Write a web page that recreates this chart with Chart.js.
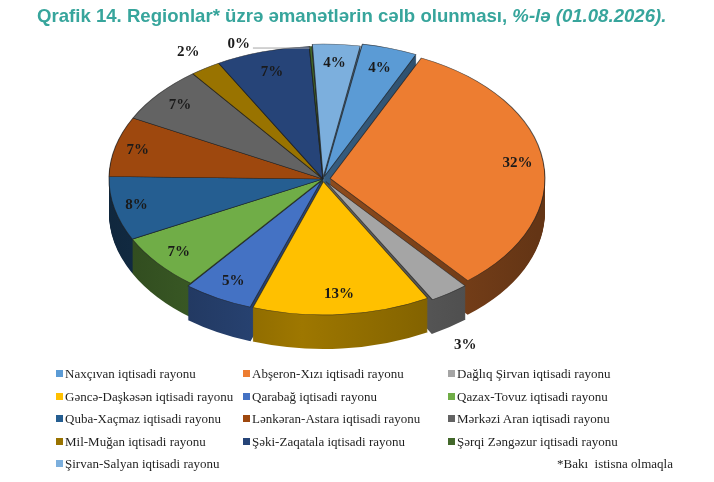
<!DOCTYPE html>
<html>
<head>
<meta charset="utf-8">
<script src="https://cdn.jsdelivr.net/npm/chart.js@4.4.1/dist/chart.umd.min.js"></script>
<style>
    html, body{margin:0;padding:0;background:#fff;}
    #wrap{position:relative;width:714px;height:482px;overflow:hidden;}
    #pie{position:absolute;left:0;top:0;}
    #title{position:absolute;left:37px;top:5px;font:bold 18.6px "Liberation Sans", Arial, sans-serif;color:#37a59c;white-space:nowrap;}
    #legend{position:absolute;left:0;top:363px;width:714px;height:119px;font:13px "Liberation Serif", "Times New Roman", serif;color:#1f1f1f;}
    .item{position:absolute;white-space:nowrap;height:22px;line-height:22px;}
    .box{display:inline-block;width:7px;height:7px;margin-right:2px;vertical-align:1px;}
    #note{position:absolute;left:557px;top:90px;height:22px;line-height:22px;white-space:pre;}
</style>
</head>
<body>
<div id="wrap">
    <canvas id="pie" width="714" height="482"></canvas>
    <div id="title">Qrafik 14. Regionlar* üzrə əmanətlərin cəlb olunması, <i>%-lə (01.08.2026).</i></div>
    <div id="legend"></div>
</div>
<script>
(function(){
    var regions = [
        'Naxçıvan iqtisadi rayonu',
        'Abşeron-Xızı iqtisadi rayonu',
        'Dağlıq Şirvan iqtisadi rayonu',
        'Gəncə-Daşkəsən iqtisadi rayonu',
        'Qarabağ iqtisadi rayonu',
        'Qazax-Tovuz iqtisadi rayonu',
        'Quba-Xaçmaz iqtisadi rayonu',
        'Lənkəran-Astara iqtisadi rayonu',
        'Mərkəzi Aran iqtisadi rayonu',
        'Mil-Muğan iqtisadi rayonu',
        'Şəki-Zaqatala iqtisadi rayonu',
        'Şərqi Zəngəzur iqtisadi rayonu',
        'Şirvan-Salyan iqtisadi rayonu'
    ];
    // share of deposits, %
    var shares = [4.2, 32.0, 3.0, 13.4, 5.3, 6.9, 7.8, 7.3, 7.0, 2.3, 7.1, 0.2, 3.6];
    var footnote = '*Bakı  istisna olmaqla';

    var sliceColors = ['#5b9bd5', '#ed7d31', '#a5a5a5', '#ffc000', '#4472c4', '#70ad47',
                       '#255e91', '#9e480e', '#636363', '#997300', '#264478', '#43682b', '#7cafdd'];
    var explodeBy = [16, 28, 20, 16, 12, 0, 0, 0, 0, 0, 0, 0, 8];

    // look of the tilted pie on the page
    var CX = 323, CY = 179, RADIUS = 214, TILT = 0.62, DEPTH = 34;

    function shade(hex, f){
        var n = parseInt(hex.slice(1), 16);
        var r = Math.round(((n >> 16) & 255) * f);
        var g = Math.round(((n >> 8) & 255) * f);
        var b = Math.round((n & 255) * f);
        return 'rgb(' + r + ',' + g + ',' + b + ')';
    }

    function geometry(chart){
        var arc = chart.getDatasetMeta(0).data[0];
        var sx = RADIUS / arc.outerRadius;
        return { ox: arc.x, oy: arc.y, r: arc.outerRadius, sx: sx, sy: sx * TILT };
    }

    function toPage(g, px, py){
        return { x: CX + (px - g.ox) * g.sx, y: CY + (py - g.oy) * g.sy };
    }

    // same shift and growth that ArcElement.draw uses for offset
    function arcShift(arc){
        var off = (arc.options.offset || 0) / 4;
        var fix = 1 - Math.sin(Math.min(Math.PI, arc.circumference || 0));
        return { off: off, grow: off * fix };
    }

    var tiltPlugin = {
        id: 'tilt3d',
        beforeDatasetsDraw: function(chart){
            var ctx = chart.ctx;
            var meta = chart.getDatasetMeta(0);
            var g = geometry(chart);
            ctx.save();
            ctx.translate(CX, CY);
            ctx.scale(g.sx, g.sy);
            ctx.translate(-g.ox, -g.oy);

            var fills = meta.data.map(function(arc, i){
                var grad = ctx.createLinearGradient(g.ox - g.r, 0, g.ox + g.r, 0);
                grad.addColorStop(0, shade(sliceColors[i], 0.42));
                grad.addColorStop(0.45, shade(sliceColors[i], 0.62));
                grad.addColorStop(1, shade(sliceColors[i], 0.42));
                return grad;
            });

            for(var d = DEPTH; d > 0; d--){
                var dy = d / g.sy;
                meta.data.forEach(function(arc, i){
                    if(arc.circumference <= 0) return;
                    var s = arcShift(arc);
                    var mid = (arc.startAngle + arc.endAngle) / 2;
                    var x = arc.x + Math.cos(mid) * s.off;
                    var y = arc.y + Math.sin(mid) * s.off + dy;
                    ctx.beginPath();
                    ctx.moveTo(x, y);
                    ctx.arc(x, y, arc.outerRadius + s.grow, arc.startAngle, arc.endAngle);
                    ctx.closePath();
                    ctx.fillStyle = fills[i];
                    ctx.fill();
                });
            }
        },
        afterDatasetsDraw: function(chart){
            chart.ctx.restore();
        }
    };

    var labelPlugin = {
        id: 'sliceLabels',
        afterDraw: function(chart){
            var ctx = chart.ctx;
            var meta = chart.getDatasetMeta(0);
            var g = geometry(chart);
            ctx.save();
            ctx.font = 'bold 15px "Liberation Serif", "Times New Roman", serif';
            ctx.fillStyle = '#1a1a1a';
            ctx.textAlign = 'center';
            ctx.textBaseline = 'middle';
            meta.data.forEach(function(arc, i){
                var txt = Math.round(shares[i]) + '%';
                var s = arcShift(arc);
                var mid = (arc.startAngle + arc.endAngle) / 2;
                var c = toPage(g, arc.x + Math.cos(mid) * s.off, arc.y + Math.sin(mid) * s.off);
                var rr = arc.outerRadius + s.grow + s.off;
                var e = toPage(g, arc.x + Math.cos(mid) * rr, arc.y + Math.sin(mid) * rr);
                var ux = e.x - c.x, uy = e.y - c.y;
                var len = Math.sqrt(ux * ux + uy * uy) || 1;
                ux /= len; uy /= len;
                var hw = ctx.measureText(txt).width / 2, hh = 8;
                var lx, ly;

                if(Math.round(shares[i]) === 0){
                    lx = e.x - 72; ly = e.y - 2;
                    ctx.strokeStyle = '#a6a6a6';
                    ctx.lineWidth = 1;
                    ctx.beginPath();
                    ctx.moveTo(lx + hw + 3, e.y + 1.5);
                    ctx.lineTo(e.x - 1, e.y + 1.5);
                    ctx.stroke();
                } else if(shares[i] < 3.5){
                    if(uy > 0.3){
                        // front slice: label sits under its side wall
                        lx = e.x + 16; ly = e.y + DEPTH + 18;
                    } else {
                        var dist = 10 + hw * Math.abs(ux) + hh * Math.abs(uy);
                        lx = e.x + ux * dist; ly = e.y + uy * dist;
                    }
                } else {
                    var din = 10 + hw * Math.abs(ux) + hh * Math.abs(uy);
                    lx = e.x - ux * din; ly = e.y - uy * din;
                }
                ctx.fillText(txt, lx, ly);
            });
            ctx.restore();
        }
    };

    function buildLegend(){
        var el = document.getElementById('legend');
        var colX = [56, 243, 448];
        var html = '';
        regions.forEach(function(name, i){
            var col = i % 3, row = Math.floor(i / 3);
            html += '<div class="item" style="left:' + colX[col] + 'px;top:' + (row * 22.5) + 'px">' +
                '<span class="box" style="background:' + sliceColors[i] + '"></span>' + name + '</div>';
        });
        html += '<div id="note">' + footnote + '</div>';
        el.innerHTML = html;
    }

    function initChart(){
        var ctx = document.getElementById('pie').getContext('2d');
        new Chart(ctx, {
            type: 'pie',
            data: {
                labels: regions,
                datasets: [{
                    data: shares,
                    backgroundColor: sliceColors,
                    borderColor: 'rgba(30,30,30,0.7)',
                    borderWidth: 1,
                    offset: explodeBy,
                    clip: false
                }]
            },
            options: {
                responsive: false,
                animation: false,
                events: [],
                rotation: 10,
                layout: { padding: 20 },
                plugins: {
                    legend: { display: false },
                    tooltip: { enabled: false }
                }
            },
            plugins: [tiltPlugin, labelPlugin]
        });
    }

    buildLegend();
    initChart();
})();
</script>
</body>
</html>
